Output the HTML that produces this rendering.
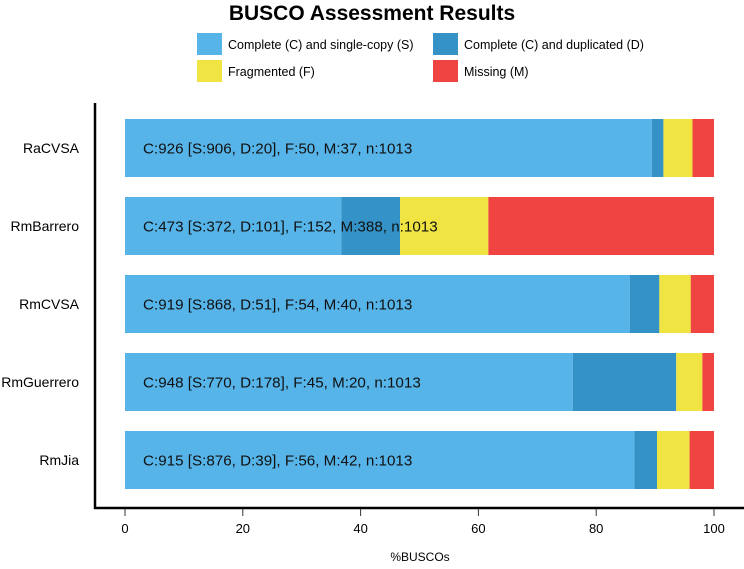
<!DOCTYPE html>
<html><head><meta charset="utf-8"><style>
body{margin:0;background:#fff;font-family:"Liberation Sans",sans-serif}
</style></head><body>
<svg id="chart" width="744" height="564" xmlns="http://www.w3.org/2000/svg" font-family="Liberation Sans, sans-serif">
<text x="372" y="20" text-anchor="middle" font-size="21" font-weight="bold">BUSCO Assessment Results</text>
<g font-size="12.5">
<rect x="197" y="33" width="25" height="22" fill="#56B4E9"/>
<text x="228" y="49">Complete (C) and single-copy (S)</text>
<rect x="433" y="33" width="25" height="22" fill="#3492C7"/>
<text x="464" y="49">Complete (C) and duplicated (D)</text>
<rect x="197" y="60" width="25" height="22" fill="#F0E442"/>
<text x="228" y="76">Fragmented (F)</text>
<rect x="433" y="60" width="25" height="22" fill="#F04442"/>
<text x="464" y="76">Missing (M)</text>
</g>
<g id="bars"></g>
<line x1="95" y1="103" x2="95" y2="509" stroke="#000" stroke-width="2.5"/>
<line x1="94" y1="508" x2="744" y2="508" stroke="#000" stroke-width="2.5"/>
<g id="xticks"></g>
<text x="420" y="561" text-anchor="middle" font-size="12">%BUSCOs</text>
</svg>
<script>
const species=["RaCVSA","RmBarrero","RmCVSA","RmGuerrero","RmJia"];
const single=[906,372,868,770,876];
const duplicated=[20,101,51,178,39];
const fragmented=[50,152,54,45,56];
const missing=[37,388,40,20,42];
const total=[1013,1013,1013,1013,1013];
const xTicks=[0,20,40,60,80,100];
const colors=["#56B4E9","#3492C7","#F0E442","#F04442"];
const ns="http://www.w3.org/2000/svg";
function xs(p){return 125+p*5.89;}
function yTop(i){return 119+i*78;}
const barH=58;
const bars=document.getElementById('bars');
species.forEach((sp,i)=>{
  const vals=[single[i],duplicated[i],fragmented[i],missing[i]];
  let cum=0;
  vals.forEach((v,k)=>{
    const p0=cum/total[i]*100; cum+=v; const p1=cum/total[i]*100;
    const r=document.createElementNS(ns,'rect');
    r.setAttribute('x',xs(p0));r.setAttribute('width',xs(p1)-xs(p0));
    r.setAttribute('y',yTop(i));r.setAttribute('height',barH);r.setAttribute('fill',colors[k]);
    
    
    bars.appendChild(r);
  });
  const t=document.createElementNS(ns,'text');
  t.setAttribute('x',143);t.setAttribute('y',yTop(i)+barH/2+5.5);t.setAttribute('font-size','15.2');t.setAttribute('fill','#111');
  t.textContent=`C:${single[i]+duplicated[i]} [S:${single[i]}, D:${duplicated[i]}], F:${fragmented[i]}, M:${missing[i]}, n:${total[i]}`;
  
  
  bars.appendChild(t);
  const l=document.createElementNS(ns,'text');
  l.setAttribute('x',79);l.setAttribute('y',yTop(i)+barH/2+5);l.setAttribute('text-anchor','end');l.setAttribute('font-size','14');
  l.textContent=sp;
  
  
  bars.appendChild(l);
});
const xt=document.getElementById('xticks');
xTicks.forEach(v=>{
  const ln=document.createElementNS(ns,'line');
  ln.setAttribute('x1',xs(v));ln.setAttribute('x2',xs(v));ln.setAttribute('y1',509);ln.setAttribute('y2',516);ln.setAttribute('stroke','#333');
  
  
  xt.appendChild(ln);
  const t=document.createElementNS(ns,'text');
  t.setAttribute('x',xs(v));t.setAttribute('y',533);t.setAttribute('text-anchor','middle');t.setAttribute('font-size','13');
  t.textContent=v;
  
  
  xt.appendChild(t);
});
</script>
</body></html>
